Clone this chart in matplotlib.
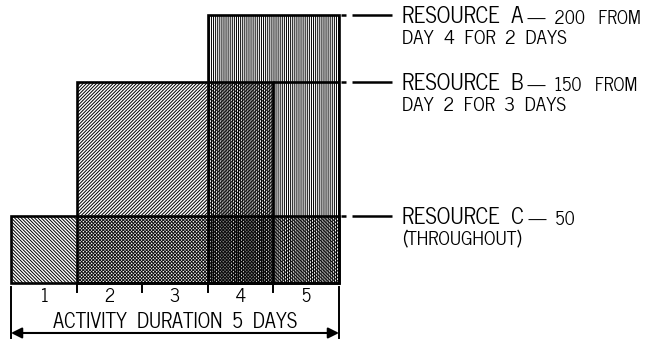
import matplotlib.pyplot as plt
from matplotlib.patches import Rectangle

# Resource loading over a 5-day activity
days = [1, 2, 3, 4, 5]
resources = ["A", "B", "C"]
amounts = [200, 150, 50]
start_day = [4, 2, 1]
duration = [2, 3, 5]
hatches = ["|" * 8, "/" * 10, "\\" * 10]
label_head = ["RESOURCE  A", "RESOURCE  B", "RESOURCE  C"]
label_tail = ["\u2014  200   FROM", "\u2014  150   FROM", "\u2014  50"]
label_line2 = ["DAY  4  FOR  2  DAYS", "DAY  2  FOR  3  DAYS", "(THROUGHOUT)"]
axis_title = "ACTIVITY  DURATION  5  DAYS"

plt.rcParams["font.family"] = ["News Cycle", "DejaVu Sans"]
plt.rcParams["hatch.linewidth"] = 0.7

fig = plt.figure(figsize=(6.5, 3.41), dpi=100)
ax = fig.add_axes([0, 0, 1, 1])
ax.set_xlim(-0.1677, 9.741)
ax.set_ylim(-43.28, 211.19)
ax.axis("off")

edge_lw = 1.9
total_days = len(days)

# overlapping resource blocks, each standing on the baseline
for amt, s, d, h in zip(amounts, start_day, duration, hatches):
    ax.add_patch(Rectangle((s - 1, 0), d, amt, facecolor="none",
                           edgecolor="black", hatch=h, lw=0))
    ax.add_patch(Rectangle((s - 1, 0), d, amt, facecolor="none",
                           edgecolor="black", lw=edge_lw, zorder=3))

# level of resource B carried across the top block
a_end = start_day[0] - 1 + duration[0]
ax.hlines(amounts[1], start_day[1] - 1 + duration[1], a_end,
          color="black", lw=edge_lw, zorder=3)

# leader lines and labels on the right
lx = total_days + 0.96
for amt, head, tail, l2 in zip(amounts, label_head, label_tail, label_line2):
    ax.plot([total_days + 0.03, total_days + 0.11], [amt, amt],
            color="black", lw=1.8, solid_capstyle="butt")
    ax.plot([total_days + 0.2, total_days + 0.81], [amt, amt],
            color="black", lw=1.8, solid_capstyle="butt")
    t = ax.text(lx, amt - 1.5, head, fontsize=16, va="center", ha="left")
    ax.annotate(" " + tail, xy=(1, 0.42), xycoords=t, fontsize=13,
                va="center", ha="left")
    ax.text(lx, amt - 18.0, l2, fontsize=13.5, va="center", ha="left")

# day scale below the blocks
for b in range(1, total_days):
    ax.plot([b, b], [-0.7, -6.7], color="black", lw=1.4)
for b in (0, total_days):
    ax.plot([b, b], [-3, -41], color="black", lw=1.4)
for d in days:
    ax.text(d - 0.5, -10.6, str(d), fontsize=13, ha="center", va="center")

ax.text(total_days / 2, -29.1, axis_title, fontsize=14.5, ha="center",
        va="center")
ax.annotate("", xy=(0, -37.3), xytext=(total_days, -37.3),
            arrowprops=dict(arrowstyle="<|-|>", color="black", lw=1.5,
                            mutation_scale=16, shrinkA=0, shrinkB=0))

fig.savefig("out.png", dpi=100)
